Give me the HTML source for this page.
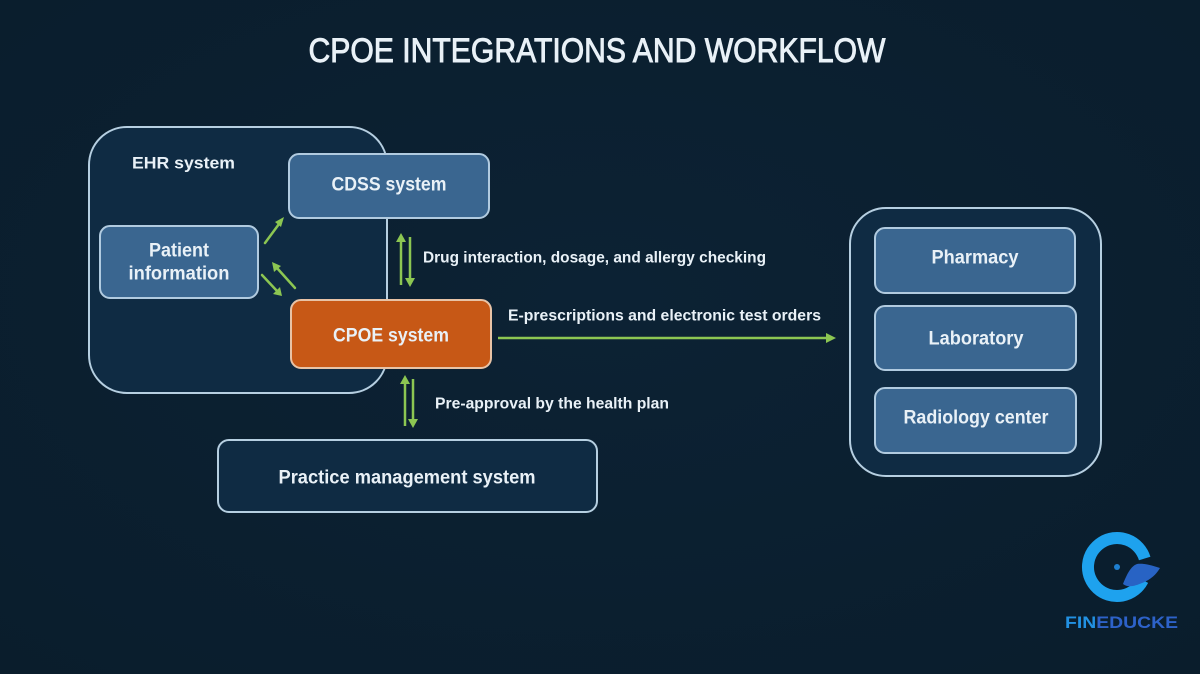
<!DOCTYPE html>
<html>
<head>
<meta charset="utf-8">
<style>
html,body{margin:0;padding:0;background:#0b1f2f;}
body{width:1200px;height:674px;overflow:hidden;}
svg{display:block;}
text{font-family:"Liberation Sans", sans-serif;fill:#e9f1f7;}
</style>
</head>
<body>
<svg width="1200" height="674" viewBox="0 0 1200 674" xmlns="http://www.w3.org/2000/svg">
  <defs>
    <radialGradient id="bg" cx="50%" cy="45%" r="75%">
      <stop offset="0" stop-color="#0c2234"/>
      <stop offset="1" stop-color="#0a1d2c"/>
    </radialGradient>
  </defs>
  <rect x="0" y="0" width="1200" height="674" fill="url(#bg)"/>

  <!-- Title -->
  <text x="597" y="51" font-size="34" text-anchor="middle" dominant-baseline="central" textLength="577" lengthAdjust="spacingAndGlyphs" stroke="#e9f1f7" stroke-width="0.9">CPOE INTEGRATIONS AND WORKFLOW</text>

  <!-- EHR container -->
  <rect x="89" y="127" width="298" height="266" rx="38" ry="38" fill="#0f2b43" stroke="#b6cfe1" stroke-width="2"/>
  <text x="132" y="163" font-size="17" font-weight="bold" dominant-baseline="central" textLength="103" lengthAdjust="spacingAndGlyphs">EHR system</text>

  <!-- CDSS -->
  <rect x="289" y="154" width="200" height="64" rx="10" ry="10" fill="#3a6690" stroke="#b1cbe0" stroke-width="2"/>
  <text x="389" y="185" font-size="19" font-weight="bold" text-anchor="middle" dominant-baseline="central" textLength="115" lengthAdjust="spacingAndGlyphs">CDSS system</text>

  <!-- Patient information -->
  <rect x="100" y="226" width="158" height="72" rx="10" ry="10" fill="#3a6690" stroke="#b1cbe0" stroke-width="2"/>
  <text x="179" y="251" font-size="19" font-weight="bold" text-anchor="middle" dominant-baseline="central" textLength="60" lengthAdjust="spacingAndGlyphs">Patient</text>
  <text x="179" y="274" font-size="19" font-weight="bold" text-anchor="middle" dominant-baseline="central" textLength="101" lengthAdjust="spacingAndGlyphs">information</text>

  <!-- CPOE -->
  <rect x="291" y="300" width="200" height="68" rx="10" ry="10" fill="#c75816" stroke="#e8c3a6" stroke-width="2"/>
  <text x="391" y="336" font-size="19" font-weight="bold" text-anchor="middle" dominant-baseline="central" textLength="116" lengthAdjust="spacingAndGlyphs">CPOE system</text>

  <!-- Patient arrows -->
  <g stroke="#8cc652" stroke-width="2.5" fill="#8cc652" stroke-linecap="round">
    <line x1="265" y1="243" x2="279" y2="224"/>
    <polygon points="284,217 275,222 281,227" stroke="none"/>
    <line x1="295" y1="288" x2="277" y2="268"/>
    <polygon points="272,262 274,272 281,266" stroke="none"/>
    <line x1="262" y1="275" x2="277" y2="291"/>
    <polygon points="282,296 273,294 280,287" stroke="none"/>
  </g>

  <!-- CDSS <-> CPOE arrows -->
  <g stroke="#8cc652" stroke-width="2.5" fill="#8cc652">
    <line x1="401" y1="240" x2="401" y2="285"/>
    <polygon points="401,233 396,242 406,242" stroke="none"/>
    <line x1="410" y1="237" x2="410" y2="280"/>
    <polygon points="410,287 405,278 415,278" stroke="none"/>
  </g>
  <text x="423" y="258" font-size="16" font-weight="bold" dominant-baseline="central" textLength="343" lengthAdjust="spacingAndGlyphs">Drug interaction, dosage, and allergy checking</text>

  <!-- CPOE -> external -->
  <line x1="498" y1="338" x2="828" y2="338" stroke="#8cc652" stroke-width="2.5"/>
  <polygon points="836,338 826,333 826,343" fill="#8cc652"/>
  <text x="508" y="316" font-size="16" font-weight="bold" dominant-baseline="central" textLength="313" lengthAdjust="spacingAndGlyphs">E-prescriptions and electronic test orders</text>

  <!-- CPOE <-> Practice mgmt -->
  <g stroke="#8cc652" stroke-width="2.5" fill="#8cc652">
    <line x1="405" y1="382" x2="405" y2="426"/>
    <polygon points="405,375 400,384 410,384" stroke="none"/>
    <line x1="413" y1="379" x2="413" y2="421"/>
    <polygon points="413,428 408,419 418,419" stroke="none"/>
  </g>
  <text x="435" y="404" font-size="16" font-weight="bold" dominant-baseline="central" textLength="234" lengthAdjust="spacingAndGlyphs">Pre-approval by the health plan</text>

  <!-- Practice management -->
  <rect x="218" y="440" width="379" height="72" rx="11" ry="11" fill="#0f2b43" stroke="#b6cfe1" stroke-width="2"/>
  <text x="407" y="478" font-size="19" font-weight="bold" text-anchor="middle" dominant-baseline="central" textLength="257" lengthAdjust="spacingAndGlyphs">Practice management system</text>

  <!-- Right container -->
  <rect x="850" y="208" width="251" height="268" rx="36" ry="36" fill="#0f2b43" stroke="#b6cfe1" stroke-width="2"/>
  <rect x="875" y="228" width="200" height="65" rx="10" ry="10" fill="#3a6690" stroke="#b1cbe0" stroke-width="2"/>
  <text x="975" y="258" font-size="19" font-weight="bold" text-anchor="middle" dominant-baseline="central" textLength="87" lengthAdjust="spacingAndGlyphs">Pharmacy</text>
  <rect x="875" y="306" width="201" height="64" rx="10" ry="10" fill="#3a6690" stroke="#b1cbe0" stroke-width="2"/>
  <text x="976" y="339" font-size="19" font-weight="bold" text-anchor="middle" dominant-baseline="central" textLength="95" lengthAdjust="spacingAndGlyphs">Laboratory</text>
  <rect x="875" y="388" width="201" height="65" rx="10" ry="10" fill="#3a6690" stroke="#b1cbe0" stroke-width="2"/>
  <text x="976" y="418" font-size="19" font-weight="bold" text-anchor="middle" dominant-baseline="central" textLength="145" lengthAdjust="spacingAndGlyphs">Radiology center</text>

  <!-- Logo -->
  <path d="M1142.8,580.2 A29,29 0 1 1 1144.7,558.5" fill="none" stroke="#1ea2ee" stroke-width="12"/>
  <circle cx="1117" cy="567" r="3" fill="#1e7fd0"/>
  <path d="M1123,584 C1127,574 1131,566 1137,564 C1145,563 1153,566 1160,568 C1156,575 1150,580 1142,583 C1135,586 1128,588 1123,584 Z" fill="#2863c4"/>
  <text x="1065" y="622" font-size="17" font-weight="bold" dominant-baseline="central" textLength="113" lengthAdjust="spacingAndGlyphs"><tspan style="fill:#2291e2">FIN</tspan><tspan style="fill:#2d62c9">EDUCKE</tspan></text>
</svg>
</body>
</html>
